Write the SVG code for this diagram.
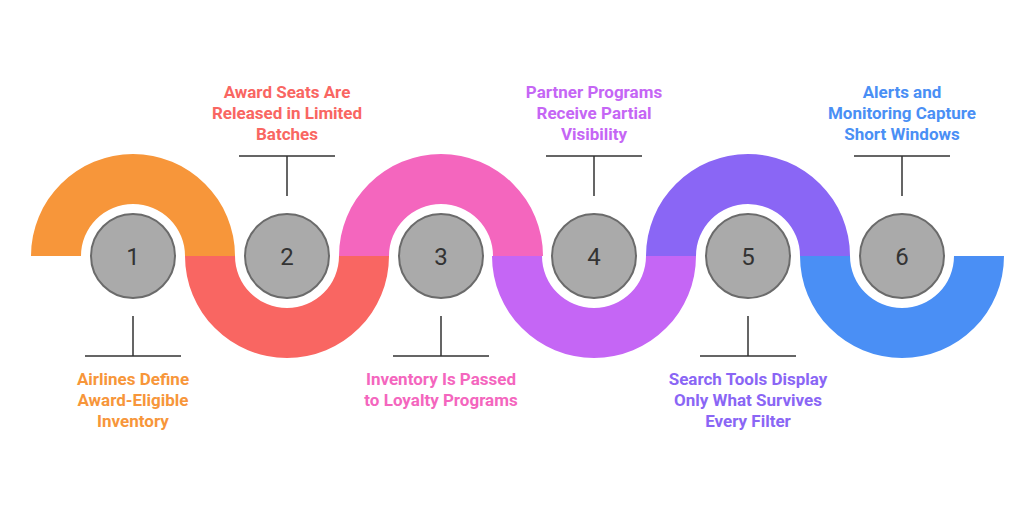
<svg xmlns="http://www.w3.org/2000/svg" width="1024" height="506" viewBox="0 0 1024 506">
<style>
.c{fill:#AAAAAA;stroke:#6B6B6B;stroke-width:2}
.n{font-family:Roboto,"Liberation Sans",sans-serif;font-size:24px;fill:#333;text-anchor:middle}
.t{font-family:Roboto,"Liberation Sans",sans-serif;font-size:17px;font-weight:bold;text-anchor:middle}
.l{stroke:#333;stroke-width:1.5;fill:none}
</style>
<rect width="1024" height="506" fill="#fff"/>
<g id="band">
<path d="M31,256 A102,102 0 0 1 235,256 L185,256 A52,52 0 0 0 81,256 Z" fill="#F7963A"/>
<path d="M185,256 A102,102 0 0 0 389,256 L339,256 A52,52 0 0 1 235,256 Z" fill="#F96662"/>
<path d="M339,256 A102,102 0 0 1 543,256 L493,256 A52,52 0 0 0 389,256 Z" fill="#F466BE"/>
<path d="M492,256 A102,102 0 0 0 696,256 L646,256 A52,52 0 0 1 542,256 Z" fill="#C566F5"/>
<path d="M646,256 A102,102 0 0 1 850,256 L800,256 A52,52 0 0 0 696,256 Z" fill="#8A66F5"/>
<path d="M800,256 A102,102 0 0 0 1004,256 L954,256 A52,52 0 0 1 850,256 Z" fill="#4A8FF5"/>
</g>
<g id="connectors">
<path class="l" d="M133,316 V356 M85,356 H181"/>
<path class="l" d="M287,196 V156 M239,156 H335"/>
<path class="l" d="M441,316 V356 M393,356 H489"/>
<path class="l" d="M594,196 V156 M546,156 H642"/>
<path class="l" d="M748,316 V356 M700,356 H796"/>
<path class="l" d="M902,196 V156 M854,156 H950"/>
</g>
<g id="node1"><circle class="c" cx="133" cy="256" r="42"/><text class="n" x="133" y="265">1</text>
<text class="t" fill="#F7963A" x="133" y="385">Airlines Define</text><text class="t" fill="#F7963A" x="133" y="406">Award-Eligible</text><text class="t" fill="#F7963A" x="133" y="427">Inventory</text></g>
<g id="node2"><circle class="c" cx="287" cy="256" r="42"/><text class="n" x="287" y="265">2</text>
<text class="t" fill="#F96662" x="287" y="98">Award Seats Are</text><text class="t" fill="#F96662" x="287" y="119">Released in Limited</text><text class="t" fill="#F96662" x="287" y="140">Batches</text></g>
<g id="node3"><circle class="c" cx="441" cy="256" r="42"/><text class="n" x="441" y="265">3</text>
<text class="t" fill="#F466BE" x="441" y="385">Inventory Is Passed</text><text class="t" fill="#F466BE" x="441" y="406">to Loyalty Programs</text></g>
<g id="node4"><circle class="c" cx="594" cy="256" r="42"/><text class="n" x="594" y="265">4</text>
<text class="t" fill="#C566F5" x="594" y="98">Partner Programs</text><text class="t" fill="#C566F5" x="594" y="119">Receive Partial</text><text class="t" fill="#C566F5" x="594" y="140">Visibility</text></g>
<g id="node5"><circle class="c" cx="748" cy="256" r="42"/><text class="n" x="748" y="265">5</text>
<text class="t" fill="#8A66F5" x="748" y="385">Search Tools Display</text><text class="t" fill="#8A66F5" x="748" y="406">Only What Survives</text><text class="t" fill="#8A66F5" x="748" y="427">Every Filter</text></g>
<g id="node6"><circle class="c" cx="902" cy="256" r="42"/><text class="n" x="902" y="265">6</text>
<text class="t" fill="#4A8FF5" x="902" y="98">Alerts and</text><text class="t" fill="#4A8FF5" x="902" y="119">Monitoring Capture</text><text class="t" fill="#4A8FF5" x="902" y="140">Short Windows</text></g>
</svg>
